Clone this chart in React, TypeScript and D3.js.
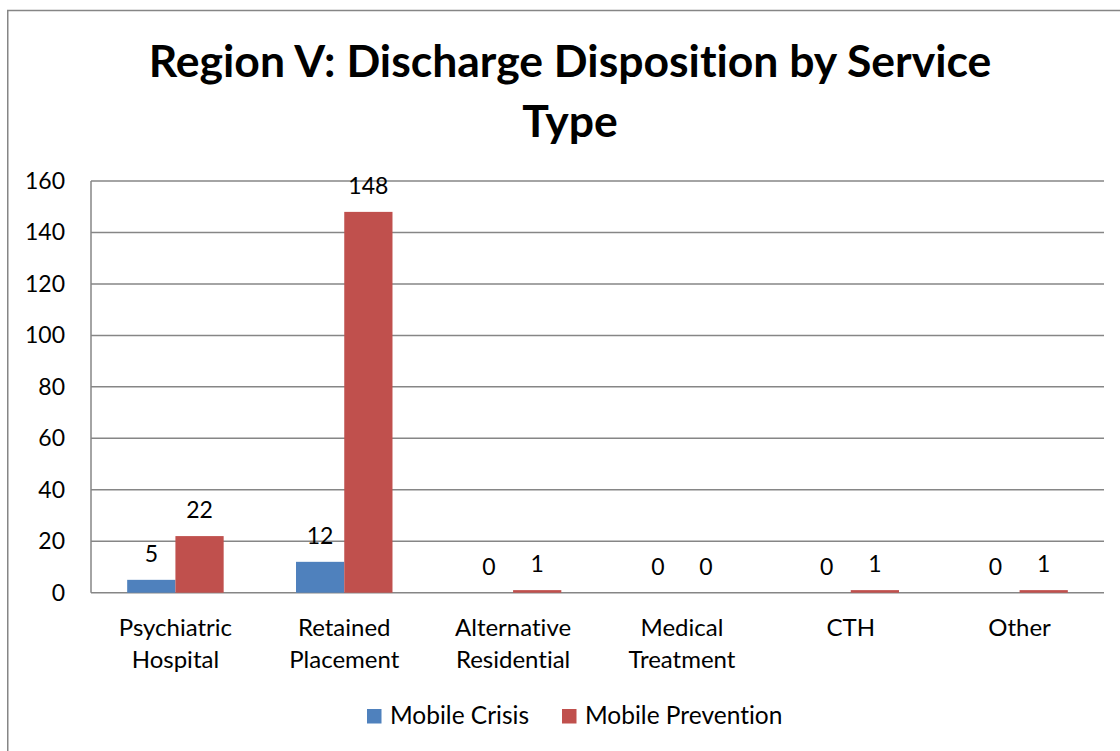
import React from "react";
import * as d3 from "d3";

const categories = [
  ["Psychiatric", "Hospital"],
  ["Retained", "Placement"],
  ["Alternative", "Residential"],
  ["Medical", "Treatment"],
  ["CTH"],
  ["Other"],
];
const seriesNames = ["Mobile Crisis", "Mobile Prevention"];
const mobileCrisis = [5, 12, 0, 0, 0, 0];
const mobilePrevention = [22, 148, 1, 0, 1, 1];
const yTicks = [0, 20, 40, 60, 80, 100, 120, 140, 160];
const colors = ["#4F81BD", "#C0504D"];

const W = 1120;
const H = 751;
const FONT = "Lato, 'Open Sans', sans-serif";
const noLig = { fontVariantLigatures: "none" as const, fontFeatureSettings: "'liga' 0" };

export default function App() {
  const left = 91;
  const right = 1104;
  const top = 181;
  const bottom = 592.7;
  const x = d3
    .scaleBand<number>()
    .domain(d3.range(categories.length))
    .range([left, right])
    .paddingInner(0)
    .paddingOuter(0);
  const y = d3.scaleLinear().domain([0, 160]).range([bottom, top]);
  const series = [mobileCrisis, mobilePrevention];
  const bw = x.bandwidth();
  const barW = bw / 3.5;
  const sub = d3
    .scaleBand<number>()
    .domain([0, 1])
    .range([bw / 2 - barW, bw / 2 + barW]);

  return (
    <div style={{ position: "fixed", left: 0, top: 0, width: W, height: H, background: "#fff" }}>
      <svg width={W} height={H} style={{ display: "block", ...noLig }}>
        <rect x={0} y={0} width={W} height={H} fill="#fff" />
        <rect x={7.75} y={10.5} width={1300} height={900} fill="none" stroke="#868686" strokeWidth={1.5} />
        <text x={570} y={77} textAnchor="middle" fontFamily={FONT} fontWeight={700} fontSize={44.5} fill="#000" style={noLig}>
          Region V: Discharge Disposition by Service
        </text>
        <text x={570} y={137} textAnchor="middle" fontFamily={FONT} fontWeight={700} fontSize={44.5} fill="#000" style={noLig}>
          Type
        </text>
        {yTicks.map((t) => (
          <g key={t}>
            <line x1={left} x2={right} y1={y(t)} y2={y(t)} stroke="#868686" strokeWidth={1.5} />
            <text x={65} y={y(t) + 8} textAnchor="end" fontFamily={FONT} fontSize={23} fill="#000">
              {t}
            </text>
          </g>
        ))}
        <line x1={left} x2={left} y1={top} y2={bottom} stroke="#868686" strokeWidth={1.5} />
        {series.map((vals, si) =>
          vals.map((v, i) => {
            const bx = (x(i) ?? 0) + (sub(si) ?? 0);
            const sw = sub.bandwidth();
            return (
              <g key={`${si}-${i}`}>
                {v > 0 && (
                  <rect x={bx} y={y(v)} width={sw} height={y(0) - y(v)} fill={colors[si]} />
                )}
                <text
                  x={bx + sw / 2}
                  y={y(v) - 18}
                  textAnchor="middle"
                  fontFamily={FONT}
                  fontSize={23}
                  fill="#000"
                >
                  {v}
                </text>
              </g>
            );
          })
        )}
        {categories.map((lines, i) => (
          <text
            key={i}
            x={(x(i) ?? 0) + bw / 2}
            y={636}
            textAnchor="middle"
            fontFamily={FONT}
            fontSize={24}
            fill="#000"
            style={noLig}
          >
            {lines.map((l, j) => (
              <tspan key={j} x={(x(i) ?? 0) + bw / 2} dy={j === 0 ? 0 : 32}>
                {l}
              </tspan>
            ))}
          </text>
        ))}
        {seriesNames.map((name, si) => {
          const lx = si === 0 ? 367 : 562;
          return (
            <g key={name}>
              <rect x={lx} y={709} width={14.5} height={14.5} fill={colors[si]} />
              <text x={lx + 23} y={724} fontFamily={FONT} fontSize={24.5} fill="#000" style={noLig}>
                {name}
              </text>
            </g>
          );
        })}
      </svg>
    </div>
  );
}
